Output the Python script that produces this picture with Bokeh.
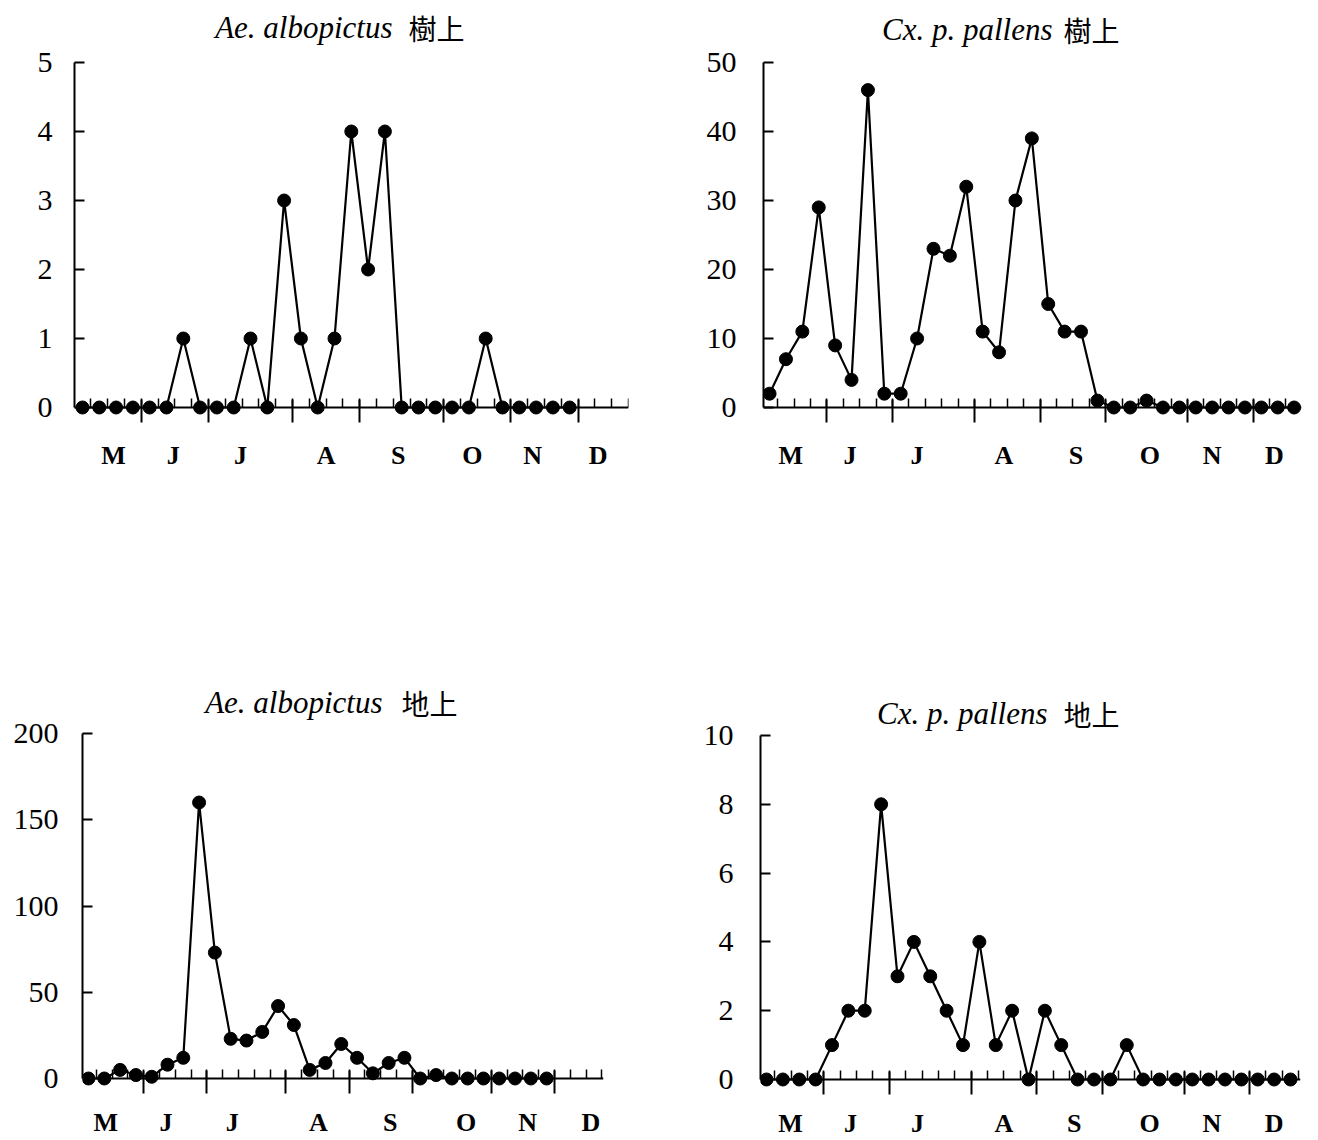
from bokeh.plotting import figure
from bokeh.models import FixedTicker, LinearAxis, Range1d, Label
from bokeh.layouts import column, row
from bokeh.embed import file_html
from bokeh.resources import INLINE

# ---------------- data ----------------
month_labels = ["M", "J", "J", "A", "S", "O", "N", "D"]

ae_tree = [0, 0, 0, 0, 0, 0, 1, 0, 0, 0, 1, 0, 3, 1, 0, 1, 4, 2, 4, 0,
           0, 0, 0, 0, 1, 0, 0, 0, 0, 0]
cx_tree = [2, 7, 11, 29, 9, 4, 46, 2, 2, 10, 23, 22, 32, 11, 8, 30, 39, 15, 11, 11,
           1, 0, 0, 1, 0, 0, 0, 0, 0, 0, 0, 0, 0]
ae_ground = [0, 0, 5, 2, 1, 8, 12, 160, 73, 23, 22, 27, 42, 31, 5, 9, 20, 12, 3, 9,
             12, 0, 2, 0, 0, 0, 0, 0, 0, 0]
cx_ground = [0, 0, 0, 0, 1, 2, 2, 8, 3, 4, 3, 2, 1, 4, 1, 2, 0, 2, 1, 0,
             0, 0, 1, 0, 0, 0, 0, 0, 0, 0, 0, 0, 0]

y_ticks_ae_tree = [0, 1, 2, 3, 4, 5]
y_ticks_cx_tree = [0, 10, 20, 30, 40, 50]
y_ticks_ae_ground = [0, 50, 100, 150, 200]
y_ticks_cx_ground = [0, 2, 4, 6, 8, 10]

# month boundaries (in weekly sample index units) and month label centres
bounds_a = [3.5, 7.5, 12.5, 16.5, 21.5, 25.5, 29.5]
bounds_b = [3.5, 7.5, 12.5, 16.5, 20.5, 25.5, 29.5]
week_ticks = [k + 0.5 for k in range(33)]
mpos_1 = [1.85, 5.4, 9.4, 14.5, 18.8, 23.2, 26.8, 30.7]
mpos_2 = [1.3, 4.9, 9.0, 14.3, 18.7, 23.2, 27.0, 30.8]
mpos_3 = [1.1, 4.9, 9.1, 14.55, 19.1, 23.9, 27.8, 31.8]
mpos_4 = [1.47, 5.13, 9.22, 14.5, 18.8, 23.4, 27.2, 31.0]

SERIF = "Liberation Serif"
CJK = "Noto Sans CJK TC"


def panel(values, yticks, bounds, mpos, latin, cjk, width, height,
          bl, br, y0_px, ytop_px, xr, lat_x, cjk_x, title_y, standoff_y,
          standoff_m):
    top = yticks[-1]
    ppu = (y0_px - ytop_px) / top
    ystart = -(height - y0_px) / ppu
    yend = top + ytop_px / ppu
    p = figure(width=width, height=height, output_backend="svg",
               toolbar_location=None, x_axis_type=None, y_axis_type=None,
               x_range=Range1d(xr[0], xr[1]), y_range=Range1d(ystart, yend),
               min_border_left=bl, min_border_right=br,
               min_border_top=0, min_border_bottom=0)
    p.outline_line_color = None
    p.background_fill_color = "white"
    p.border_fill_color = "white"

    # y axis
    yax = LinearAxis(ticker=FixedTicker(ticks=yticks), bounds=(0, top))
    yax.axis_line_width = 2
    yax.axis_line_color = "black"
    yax.major_tick_in = 10
    yax.major_tick_out = 0
    yax.major_tick_line_width = 2
    yax.minor_tick_line_color = None
    yax.major_label_standoff = standoff_y
    yax.major_label_text_font = SERIF
    yax.major_label_text_font_size = "30px"
    yax.major_label_text_color = "black"
    p.add_layout(yax, "left")

    # x axis: week ticks and month boundaries
    xax = LinearAxis(ticker=FixedTicker(ticks=bounds, minor_ticks=week_ticks),
                     fixed_location=0)
    xax.axis_line_width = 2
    xax.axis_line_color = "black"
    xax.major_tick_in = 8
    xax.major_tick_out = 15
    xax.major_tick_line_width = 2
    xax.minor_tick_in = 9
    xax.minor_tick_out = 0
    xax.minor_tick_line_width = 1.5
    xax.major_label_overrides = {b: "" for b in bounds}
    p.add_layout(xax, "below")

    # month labels axis
    max_ = LinearAxis(ticker=FixedTicker(ticks=mpos), fixed_location=0)
    max_.axis_line_color = None
    max_.major_tick_line_color = None
    max_.minor_tick_line_color = None
    max_.major_label_overrides = {m: t for m, t in zip(mpos, month_labels)}
    max_.major_label_standoff = standoff_m
    max_.major_label_text_font = SERIF
    max_.major_label_text_font_style = "bold"
    max_.major_label_text_font_size = "26px"
    max_.major_label_text_color = "black"
    p.add_layout(max_, "below")

    x = list(range(len(values)))
    p.line(x, values, line_color="black", line_width=2.2)
    p.scatter(x, values, size=13, fill_color="black", line_color="black")

    p.add_layout(Label(x=lat_x, y=title_y, x_units="screen", y_units="screen",
                       text=latin, text_font=SERIF, text_font_style="italic",
                       text_font_size="31px", text_align="right",
                       text_baseline="middle", text_color="black"))
    p.add_layout(Label(x=cjk_x, y=title_y, x_units="screen", y_units="screen",
                       text=cjk, text_font=CJK, text_font_size="28px",
                       text_align="left", text_baseline="middle",
                       text_color="black"))
    return p


p1 = panel(ae_tree, y_ticks_ae_tree, bounds_a, mpos_1, "Ae. albopictus", "樹上",
           660, 660, 74, 32, 407, 62, (-0.476, 32.5), 318, 334, 633, 22, 27)
p2 = panel(cx_tree, y_ticks_cx_tree, bounds_b, mpos_2, "Cx. p. pallens", "樹上",
           650, 660, 103, 9, 407, 62, (-0.37, 32.45), 289, 300, 631, 27, 27)
p3 = panel(ae_ground, y_ticks_ae_ground, bounds_b, mpos_3, "Ae. albopictus", "地上",
           660, 480, 82, 57, 418, 73, (-0.38, 32.6), 300, 319, 438, 24, 23)
p4 = panel(cx_ground, y_ticks_cx_ground, bounds_b, mpos_4, "Cx. p. pallens", "地上",
           650, 480, 100, 10, 419, 75, (-0.366, 32.61), 287, 303, 427, 27, 23)

layout = column(row(p1, p2), row(p3, p4))
open("out.html", "w").write(file_html(layout, INLINE))
